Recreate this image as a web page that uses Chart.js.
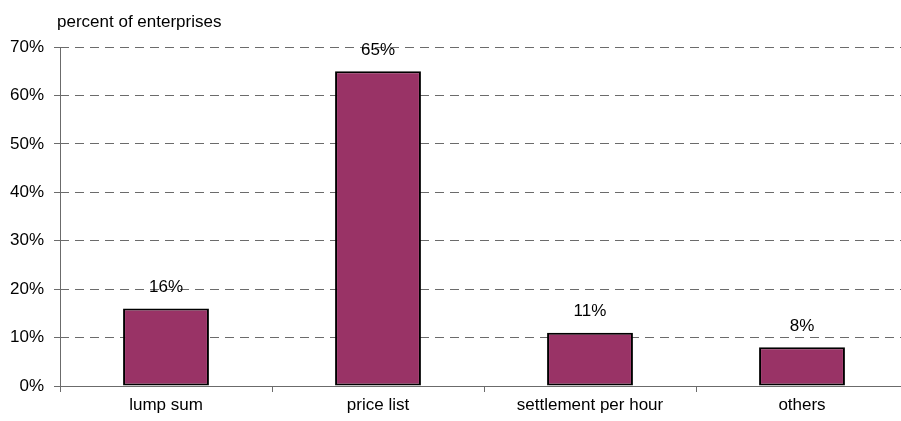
<!DOCTYPE html>
<html>
<head>
<meta charset="utf-8">
<title>Pricing methods</title>
<script src="https://cdn.jsdelivr.net/npm/chart.js@4/dist/chart.umd.min.js"></script>
<style>
  html, body { margin: 0; padding: 0; background: #fff; overflow: hidden; }
  #wrap { width: 901px; height: 421px; overflow: hidden; }
</style>
</head>
<body>
<div id="wrap"><canvas id="method-chart" width="908" height="421"></canvas></div>
<script>
// Share of enterprises by settlement method
const methodLabels = ["lump sum", "price list", "settlement per hour", "others"];
const methodShares = [16, 65, 11, 8];
const yTicks = [0, 10, 20, 30, 40, 50, 60, 70];

const FONT = { family: "'Liberation Sans', Arial, sans-serif", size: 17 };
const gridGrey = '#6b6b6b';

// writes the percentage above each bar, the axis caption and the solid y axis line
const valueLabels = {
    id: 'valueLabels',
    afterDatasetsDraw(chart) {
        const ctx = chart.ctx;
        const area = chart.chartArea;
        ctx.save();
        ctx.strokeStyle = gridGrey;
        ctx.lineWidth = 1;
        ctx.setLineDash([]);
        ctx.beginPath();
        ctx.moveTo(area.left + 0.5, area.top);
        ctx.lineTo(area.left + 0.5, area.bottom);
        ctx.stroke();

        ctx.font = FONT.size + 'px ' + FONT.family;
        ctx.fillStyle = '#000';
        ctx.textAlign = 'center';
        ctx.textBaseline = 'middle';
        chart.getDatasetMeta(0).data.forEach((bar, i) => {
            ctx.fillText(methodShares[i] + '%', bar.x, bar.y - 21);
        });
        ctx.textAlign = 'left';
        ctx.fillText('percent of enterprises', 57, 22);
        ctx.restore();
    }
};

const chartEl = document.querySelector('#method-chart').getContext('2d');

const methodChart = new Chart(chartEl, {
    type: 'bar',
    data: {
        labels: methodLabels,
        datasets: [{
            data: methodShares,
            backgroundColor: '#993366',
            borderColor: '#000',
            borderWidth: 2,
            borderSkipped: false,
            barPercentage: 0.405,
            categoryPercentage: 1
        }]
    },
    options: {
        responsive: false,
        animation: false,
        layout: { padding: { top: 47, left: 0, right: 0, bottom: 0 } },
        plugins: {
            legend: { display: false },
            tooltip: { enabled: false }
        },
        scales: {
            x: {
                afterFit(scale) { scale.height = 35; },
                offset: true,
                grid: {
                    offset: true,
                    drawOnChartArea: false,
                    tickLength: 6,
                    color: gridGrey
                },
                border: { color: gridGrey, width: 1 },
                ticks: { color: '#000', font: FONT, padding: 3, maxRotation: 0 }
            },
            y: {
                afterFit(scale) { scale.width = 60; },
                min: 0,
                max: 70,
                afterBuildTicks(scale) {
                    scale.ticks = yTicks.map(v => ({ value: v }));
                },
                grid: {
                    color: gridGrey,
                    tickBorderDash: [],
                    tickLength: 6,
                    tickColor: gridGrey
                },
                border: { display: false, dash: [9, 6] },
                ticks: {
                    color: '#000',
                    font: FONT,
                    padding: 10,
                    callback: v => v + '%'
                }
            }
        }
    },
    plugins: [valueLabels]
});
</script>
</body>
</html>
